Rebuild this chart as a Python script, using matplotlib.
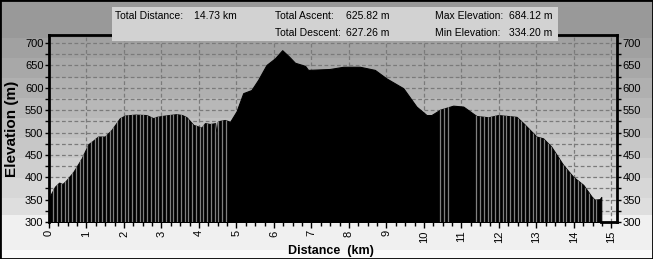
import matplotlib.pyplot as plt
import numpy as np
from matplotlib.patches import Rectangle
from matplotlib.ticker import MultipleLocator

# elevation profile (km, m)
dist_km = [0.00, 0.05, 0.16, 0.27, 0.36, 0.45, 0.65, 0.87, 1.05, 1.15, 1.31, 1.49,
           1.67, 1.89, 2.03, 2.30, 2.60, 2.78, 2.87, 3.10, 3.40, 3.55, 3.67, 3.85,
           4.07, 4.16, 4.30, 4.43, 4.47, 4.50, 4.56, 4.69, 4.83, 5.00, 5.18, 5.40,
           5.58, 5.80, 6.03, 6.22, 6.40, 6.56, 6.83, 6.91, 7.20, 7.49, 7.85, 8.29,
           8.69, 9.00, 9.45, 9.80, 10.07, 10.20, 10.43, 10.78, 11.05, 11.40, 11.72,
           11.98, 12.47, 12.65, 13.00, 13.18, 13.40, 13.71, 13.98, 14.25, 14.47,
           14.55, 14.69, 14.73]
elev_m = [352, 362, 379, 388, 385, 392, 412, 442, 474, 480, 491, 491,
          506, 532, 538, 540, 539, 532, 535, 538, 541, 539, 534, 517,
          511, 521, 519, 521, 495, 524, 526, 528, 524, 547, 588, 595,
          618, 651, 666, 684, 670, 656, 649, 640, 641, 642, 647, 647,
          640, 621, 599, 558, 539, 539, 551, 560, 558, 537, 534,
          539, 535, 521, 491, 487, 468, 428, 401, 383, 357,
          350, 351, 356]

# sparse-sample stretches where the bars show gaps
gap_ranges = [(0.12, 4.78), (10.43, 10.70), (11.40, 14.70)]

stat_labels = ["Total Distance:", "Total Ascent:", "Max Elevation:",
               "Total Descent:", "Min Elevation:"]
stat_values = ["14.73 km", "625.82 m", "684.12 m", "627.26 m", "334.20 m"]

W, H = 653, 259
fig = plt.figure(figsize=(W / 100, H / 100), dpi=100)
plt.rcParams['font.family'] = ['Liberation Sans', 'DejaVu Sans']

# banded grey background
bg = fig.add_axes([0, 0, 1, 1], zorder=-10)
bg.axis('off')
edges = [0, 38, 58, 78, 98, 118, 138, 158, 178, 198, 215, 250, 256, 259]
greys = [0.60, 0.63, 0.66, 0.69, 0.72, 0.75, 0.78, 0.81, 0.84, 0.87, 0.94, 0.98, 0.98]
col = np.zeros(H)
for i in range(len(greys)):
    col[edges[i]:edges[i + 1]] = greys[i]
bg.imshow(col[:, None], cmap='gray', vmin=0, vmax=1, aspect='auto',
          extent=[0, 1, 0, 1], interpolation='nearest')

ax = fig.add_axes([49 / W, 37 / H, (617 - 49) / W, (222 - 35) / H])
ax.set_facecolor('none')
ax.set_xlim(0, 15.15)
ax.set_ylim(300, 718)

poly = ax.fill_between(dist_km, 300, elev_m, color='black', lw=0.8, zorder=3)
for a, b in gap_ranges:
    xs = np.arange(a, b, 0.1)
    vl = ax.vlines(xs, 300, 720, color='#808080', lw=0.9, zorder=4)
    vl.set_clip_path(poly.get_paths()[0], ax.transData)
ax.plot([dist_km[-1], 15.15], [300, 300], color='black', lw=2, zorder=5, clip_on=False)

ax.xaxis.set_major_locator(MultipleLocator(1))
ax.xaxis.set_minor_locator(MultipleLocator(0.25))
ax.yaxis.set_major_locator(MultipleLocator(50))
ax.yaxis.set_minor_locator(MultipleLocator(25))
ax.grid(True, axis='y', which='both', color='#7a7a7a', ls=(0, (3, 2)), lw=0.9)
ax.grid(True, axis='x', which='major', color='#7a7a7a', ls=(0, (3, 2)), lw=0.9)
ax.set_axisbelow(True)

for s in ['left', 'right', 'top']:
    ax.spines[s].set_linewidth(2)
    ax.spines[s].set_zorder(6)
ax.spines['bottom'].set_visible(False)

ax.tick_params(axis='y', which='both', left=True, right=True, labelleft=True,
               labelright=True, labelsize=8, length=3, width=1, pad=1)
ax.tick_params(axis='x', which='both', bottom=True, labelsize=8, length=3,
               width=1, pad=2, labelrotation=90)
ax.tick_params(axis='x', which='major', length=4)

ax.set_ylabel('Elevation (m)', fontsize=11, fontweight='bold', labelpad=4)
fig.text(331 / W, 1 - 251 / H, 'Distance  (km)', fontsize=9, fontweight='bold',
         ha='center', va='center')

# statistics box
fig.patches.append(Rectangle((112 / W, 1 - 41 / H), 446 / W, 34 / H,
                             transform=fig.transFigure, facecolor='#d2d2d2',
                             edgecolor='none', zorder=5))
label_xy = [(115, 16), (275, 16), (435, 16), (275, 33), (435, 33)]
value_xy = [(194, 16), (346, 16), (509, 16), (346, 33), (509, 33)]
for t, (x, y) in zip(stat_labels, label_xy):
    fig.text(x / W, 1 - y / H, t, fontsize=7.5, va='center', ha='left', zorder=6)
for t, (x, y) in zip(stat_values, value_xy):
    fig.text(x / W, 1 - y / H, t, fontsize=7.5, va='center', ha='left', zorder=6)

fig.patches.append(Rectangle((0, 0), 1, 1, transform=fig.transFigure, fill=False,
                             edgecolor='black', lw=2, zorder=10))

fig.savefig('out.png', dpi=100)
